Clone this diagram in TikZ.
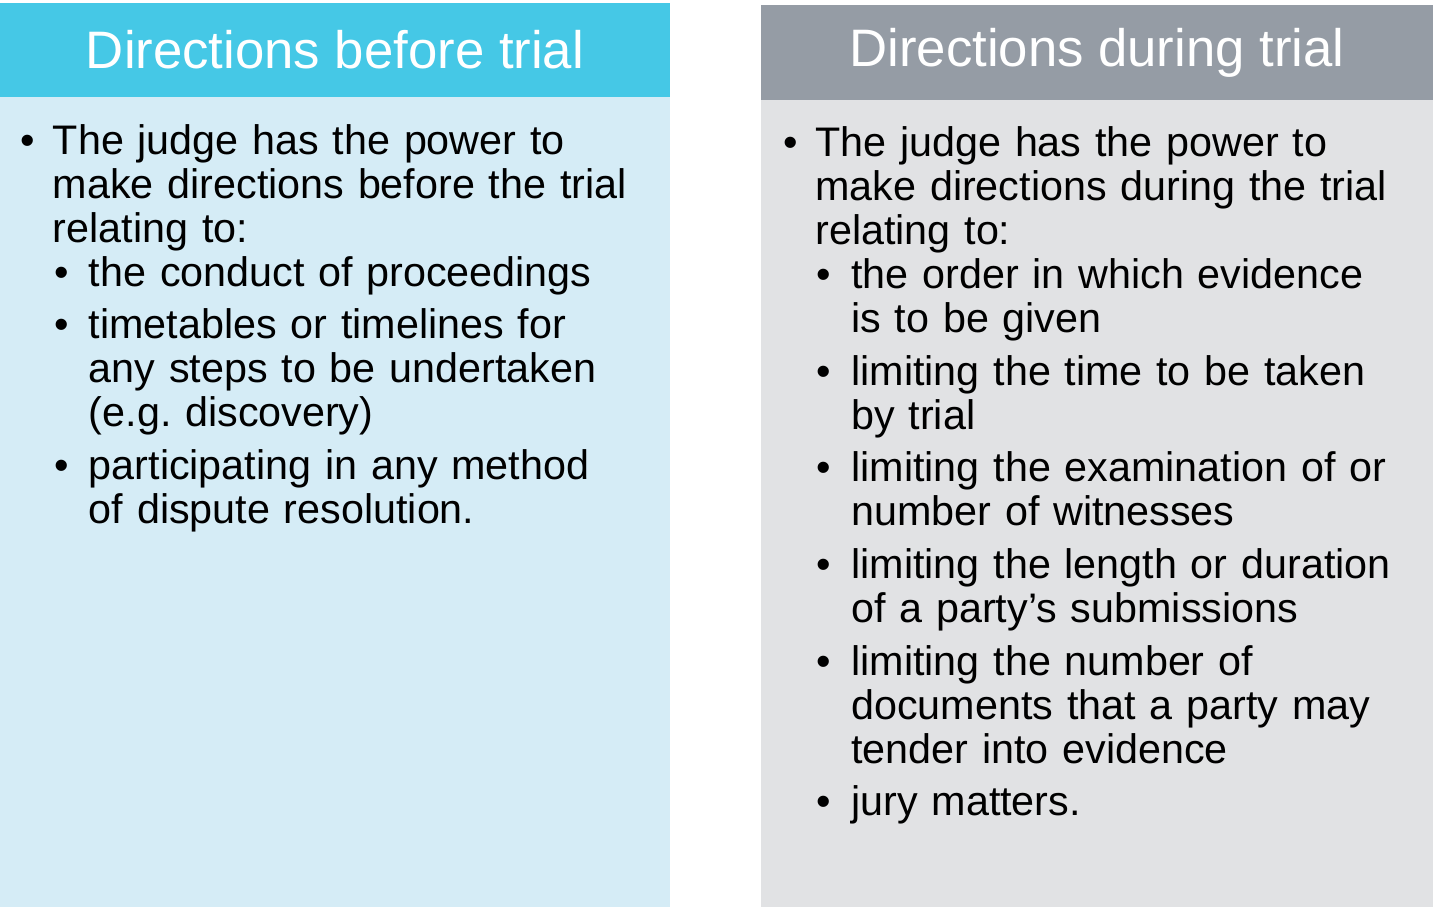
\documentclass[tikz,border=0pt]{standalone}
\usepackage{fontspec}
\setmainfont{Liberation Sans}
\usepackage{enumitem}
\usetikzlibrary{positioning}
\definecolor{blueHead}{HTML}{45C8E6}
\definecolor{blueBody}{HTML}{D5ECF6}
\definecolor{greyHead}{HTML}{959CA5}
\definecolor{greyBody}{HTML}{E1E2E4}
\setlist[itemize]{label=\textbullet, nosep, itemsep=5pt, leftmargin=0.7cm, labelsep=0.35cm}
\setlist[itemize,2]{leftmargin=0.72cm, labelsep=0.4cm}

\begin{document}
\begin{tikzpicture}[
        head/.style={font=\fontsize{30}{34}\selectfont, text=white, anchor=center},
        body/.style={text width=13.8cm, align=left, anchor=north west, inner sep=0pt,
                     font=\fontsize{23.5}{25}\selectfont}
    ]
        \useasboundingbox (0,0) rectangle (28.8,-18.42);
        % Panels
        \fill[blueBody] (0,-1.94) rectangle (13.4,-18.14);
        \fill[blueHead] (0,-0.06) rectangle (13.4,-1.94);
        \fill[greyBody] (15.22,-2.0) rectangle (28.66,-18.14);
        \fill[greyHead] (15.22,-0.1) rectangle (28.66,-2.0);

        % Headings
        \node[head] (beforeHead) at (6.7,-1.0) {Directions before trial};
        \node[head] (duringHead) at (21.94,-1.05) {Directions during trial};

        % Lists
        \node[body] (beforeList) at (0.35,-2.2) {%
            \begin{itemize}
            \item The judge has the power to\\make directions before the trial\\relating to:
                \begin{itemize}
                \item the conduct of proceedings
                \item timetables or timelines for\\any steps to be undertaken\\(e.g.\ discovery)
                \item participating in any method\\of dispute resolution.
                \end{itemize}
            \end{itemize}};
        \node[body] (duringList) at (15.6,-2.25) {%
            \begin{itemize}
            \item The judge has the power to\\make directions during the trial\\relating to:
                \begin{itemize}
                \item the order in which evidence\\is to be given
                \item limiting the time to be taken\\by trial
                \item limiting the examination of or\\number of witnesses
                \item limiting the length or duration\\of a party's submissions
                \item limiting the number of\\documents that a party may\\tender into evidence
                \item jury matters.
                \end{itemize}
            \end{itemize}};
    \end{tikzpicture}
\end{document}
